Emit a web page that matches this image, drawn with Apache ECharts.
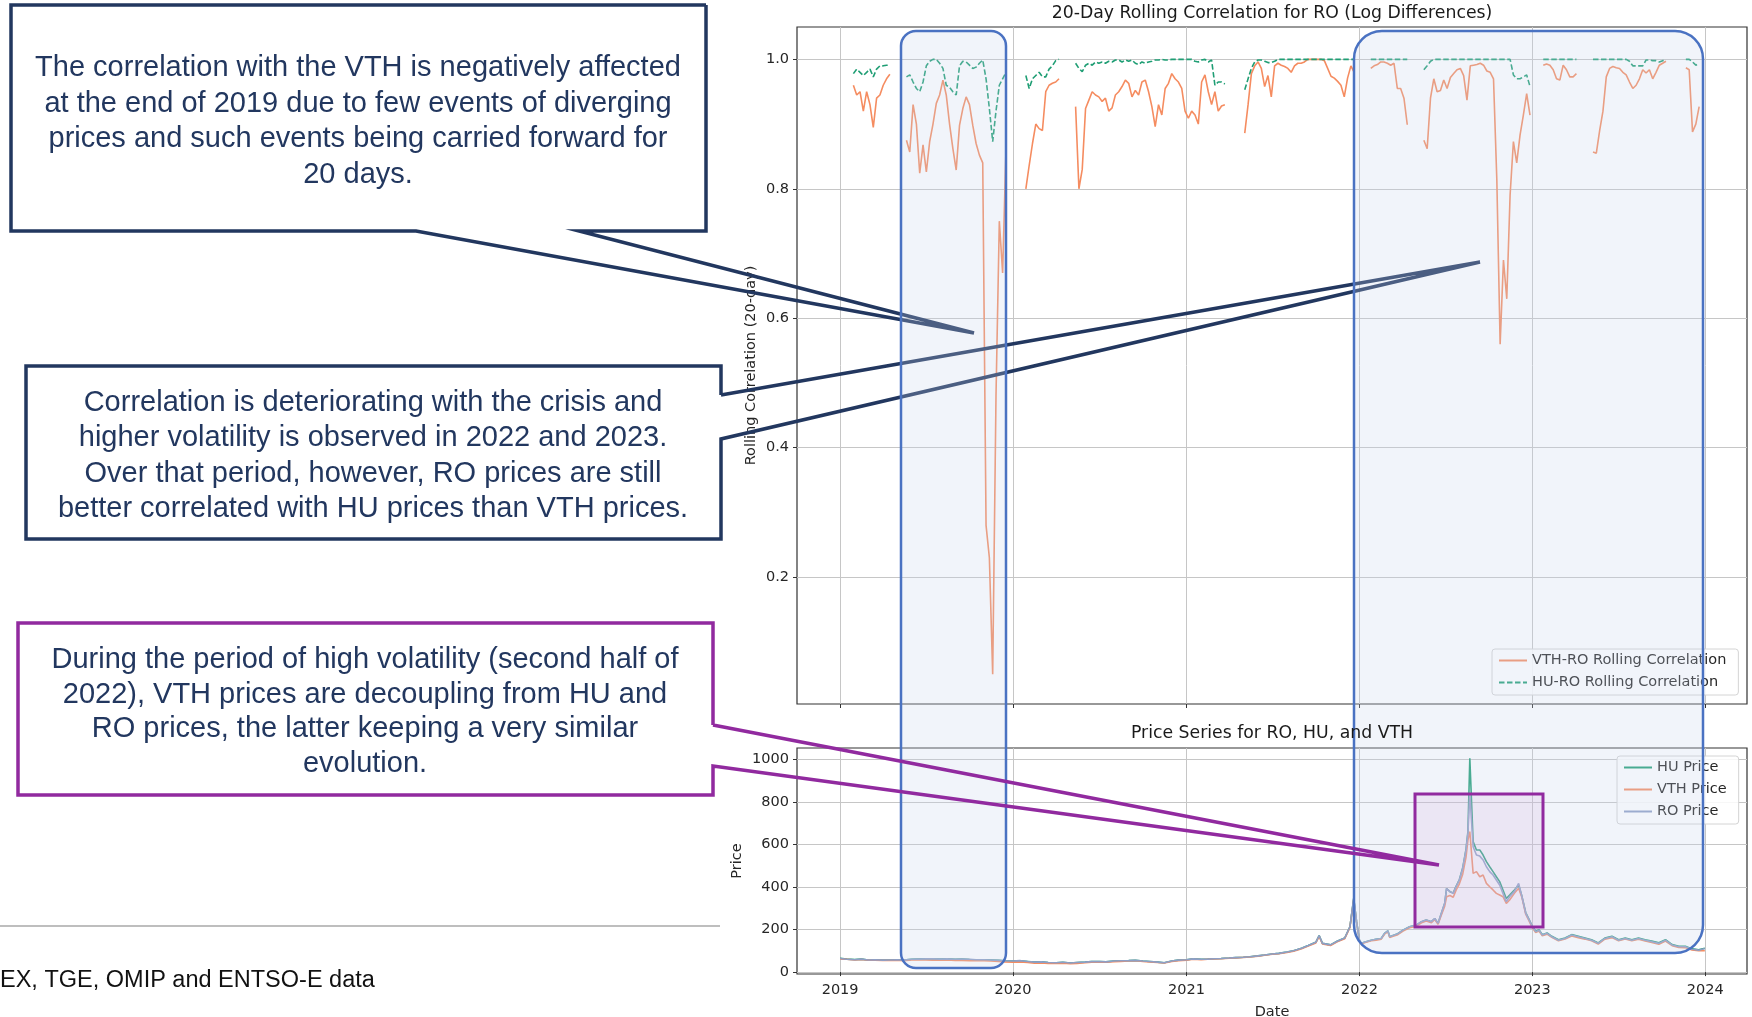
<!DOCTYPE html>
<html>
<head>
<meta charset="utf-8">
<title>RO rolling correlation and prices</title>
<script src="https://cdn.jsdelivr.net/npm/echarts@6/dist/echarts.min.js"></script>
<style>
  html, body { margin: 0; padding: 0; background: #ffffff; }
  #chart { width: 1752px; height: 1017px; }
</style>
</head>
<body>
<div id="chart"></div>
<script>
const corrStart = '2019-01-01'
const vthRoCorr = [
  null, null, null, null, 0.96, 0.945, 0.95, 0.92, 0.95, 0.93,
  0.895, 0.94, 0.945, 0.96, 0.97, 0.977, null, null, null, null,
  0.875, 0.857, 0.93, 0.90, 0.824, 0.868, 0.826, 0.873, 0.90, 0.932,
  0.945, 0.968, 0.945, 0.90, 0.862, 0.829, 0.898, 0.924, 0.942, 0.93,
  0.898, 0.87, 0.852, 0.84, 0.28, 0.23, 0.05, 0.48, 0.75, 0.67,
  0.86, null, null, null, null, null, 0.80, 0.836, 0.87, 0.90,
  0.893, 0.89, 0.95, 0.96, 0.963, 0.965, 0.97, null, null, null,
  null, 0.927, 0.80, 0.83, 0.924, 0.937, 0.95, 0.945, 0.942, 0.935,
  0.94, 0.92, 0.925, 0.945, 0.95, 0.958, 0.968, 0.963, 0.942, 0.952,
  0.945, 0.965, 0.968, 0.95, 0.927, 0.896, 0.93, 0.914, 0.955, 0.963,
  0.978, 0.97, 0.965, 0.955, 0.92, 0.909, 0.92, 0.914, 0.90, 0.965,
  0.976, 0.95, 0.93, 0.95, 0.92, 0.928, 0.93, null, null, null,
  null, null, 0.886, 0.93, 0.978, 0.99, 0.996, 0.986, 0.958, 0.975,
  0.942, 0.99, 0.994, 0.991, 0.989, 0.986, 0.98, 0.99, 0.994, 0.994,
  0.996, 1.0, 1.0, 1.0, 1.0, 1.0, 0.998, 0.986, 0.974, 0.971,
  0.966, 0.96, 0.942, 0.971, 0.99, 0.98, null, null, null, null,
  0.986, 0.99, 0.992, 0.996, 0.996, 0.994, 0.991, 0.994, 0.955, 0.955,
  0.94, 0.899, null, null, null, null, 0.875, 0.862, 0.94, 0.97,
  0.95, 0.952, 0.968, 0.955, 0.972, 0.978, 0.984, 0.986, 0.975, 0.937,
  0.99, 0.991, 0.992, 0.994, 0.991, 0.982, 0.98, 0.97, 0.814, 0.56,
  0.69, 0.63, 0.79, 0.873, 0.84, 0.883, 0.914, 0.947, 0.914, null,
  null, null, 0.991, 0.993, 0.991, 0.984, 0.97, 0.968, 0.991, 0.984,
  0.973, 0.973, 0.978, null, null, null, null, 0.857, 0.855, 0.89,
  0.92, 0.973, 0.986, 0.989, 0.987, 0.986, 0.98, 0.976, 0.965, 0.955,
  0.96, 0.97, 0.984, 0.979, 0.984, 0.97, 0.98, 0.991, 0.994, 0.997,
  null, null, null, null, null, 0.987, 0.984, 0.888, 0.90, 0.927,
  null
]
const huRoCorr = [
  null, null, null, null, 0.978, 0.985, 0.98, 0.975, 0.98, 0.985,
  0.973, 0.985, 0.99, 0.99, 0.991, 0.991, null, null, null, null,
  0.973, 0.976, 0.965, 0.955, 0.95, 0.965, 0.99, 0.997, 1.0, 1.0,
  0.994, 0.986, 0.96, 0.957, 0.95, 0.945, 0.99, 0.997, 0.996, 0.991,
  0.986, 0.988, 0.994, 0.999, 0.97, 0.924, 0.873, 0.92, 0.96, 0.97,
  0.98, null, null, null, null, null, 0.975, 0.955, 0.97, 0.975,
  0.98, 0.973, 0.973, 0.985, 0.99, 0.998, 1.0, null, null, null,
  null, 0.994, 0.986, 0.981, 0.991, 0.994, 0.991, 0.996, 0.994, 0.996,
  0.994, 0.997, 0.996, 0.999, 0.999, 0.996, 0.999, 0.997, 0.999, 0.994,
  0.992, 0.996, 0.994, 0.996, 0.997, 0.999, 0.999, 1.0, 0.999, 0.999,
  1.0, 1.0, 1.0, 1.0, 1.0, 1.0, 1.0, 0.997, 0.996, 0.999,
  1.0, 0.996, 0.999, 0.96, 0.965, 0.965, 0.962, null, null, null,
  null, null, 0.953, 0.97, 0.986, 0.996, 0.999, 0.999, 0.997, 0.995,
  0.995, 0.997, 1.0, 1.0, 1.0, 1.0, 1.0, 1.0, 1.0, 1.0,
  1.0, 1.0, 1.0, 1.0, 1.0, 1.0, 1.0, 1.0, 1.0, 1.0,
  1.0, 1.0, 1.0, 1.0, 1.0, 1.0, null, null, null, null,
  1.0, 1.0, 1.0, 1.0, 1.0, 1.0, 1.0, 1.0, 1.0, 1.0,
  1.0, 1.0, null, null, null, null, 0.984, 0.99, 0.997, 1.0,
  1.0, 1.0, 1.0, 1.0, 1.0, 1.0, 1.0, 1.0, 1.0, 1.0,
  1.0, 1.0, 1.0, 1.0, 1.0, 1.0, 1.0, 1.0, 1.0, 1.0,
  1.0, 1.0, 1.0, 0.976, 0.97, 0.97, 0.973, 0.976, 0.958, null,
  null, null, 1.0, 1.0, 1.0, 1.0, 1.0, 1.0, 1.0, 1.0,
  1.0, 1.0, 1.0, null, null, null, null, 1.0, 1.0, 1.0,
  1.0, 1.0, 1.0, 1.0, 1.0, 1.0, 1.0, 1.0, 0.997, 0.99,
  0.99, 0.99, 0.99, 0.999, 0.999, 0.998, 0.998, 0.996, 0.998, 0.999,
  null, null, null, null, null, 1.0, 1.0, 0.996, 0.991, 0.994,
  null
]

const priceDates = [
  '2019-01-01', '2019-01-15', '2019-02-01', '2019-02-15', '2019-03-01', '2019-03-15',
  '2019-04-01', '2019-04-15', '2019-05-01', '2019-05-15', '2019-06-01', '2019-06-15',
  '2019-07-01', '2019-07-15', '2019-08-01', '2019-08-15', '2019-09-01', '2019-09-15',
  '2019-10-01', '2019-10-15', '2019-11-01', '2019-11-15', '2019-12-01', '2019-12-15',
  '2020-01-01', '2020-01-15', '2020-02-01', '2020-02-15', '2020-03-01', '2020-03-15',
  '2020-04-01', '2020-04-15', '2020-05-01', '2020-05-15', '2020-06-01', '2020-06-15',
  '2020-07-01', '2020-07-15', '2020-08-01', '2020-08-15', '2020-09-01', '2020-09-15',
  '2020-10-01', '2020-10-15', '2020-11-01', '2020-11-15', '2020-12-01', '2020-12-15',
  '2021-01-01', '2021-01-15', '2021-02-01', '2021-02-15', '2021-03-01', '2021-03-15',
  '2021-04-01', '2021-04-15', '2021-05-01', '2021-05-15', '2021-06-01', '2021-06-15',
  '2021-07-01', '2021-07-15', '2021-08-01', '2021-08-15', '2021-09-01', '2021-09-15',
  '2021-10-01', '2021-10-08', '2021-10-15', '2021-11-01', '2021-11-15', '2021-12-01',
  '2021-12-12', '2021-12-20', '2021-12-26',
  '2022-01-01', '2022-01-05', '2022-01-15', '2022-01-26', '2022-02-05', '2022-02-16',
  '2022-02-23', '2022-03-02', '2022-03-06', '2022-03-13', '2022-03-23', '2022-04-03',
  '2022-04-17', '2022-05-01', '2022-05-12', '2022-05-22', '2022-06-02', '2022-06-09',
  '2022-06-16', '2022-06-23', '2022-06-30', '2022-07-04', '2022-07-11', '2022-07-18',
  '2022-07-24', '2022-07-31', '2022-08-07', '2022-08-14', '2022-08-18', '2022-08-22',
  '2022-08-29', '2022-09-05', '2022-09-12', '2022-09-19', '2022-09-26', '2022-10-03',
  '2022-10-10', '2022-10-17', '2022-10-24', '2022-10-31', '2022-11-07', '2022-11-14',
  '2022-11-24', '2022-12-03', '2022-12-10', '2022-12-18', '2022-12-25',
  '2023-01-01', '2023-01-08', '2023-01-15', '2023-01-22', '2023-02-01', '2023-02-11',
  '2023-02-25', '2023-03-11', '2023-03-25', '2023-04-08', '2023-04-22', '2023-05-06',
  '2023-05-20', '2023-06-03', '2023-06-18', '2023-07-02', '2023-07-16', '2023-07-30',
  '2023-08-13', '2023-08-27', '2023-09-10', '2023-09-25', '2023-10-09', '2023-10-23',
  '2023-11-06', '2023-11-20', '2023-12-04', '2023-12-18', '2023-12-31'
]
const huPrice = [
  65, 61, 59, 61, 57, 58, 56, 57, 58, 56, 60, 61, 62, 61, 61, 62, 60, 61, 59, 58, 58, 57, 55, 53,
  52, 53, 50, 47, 48, 45, 44, 46, 43, 45, 47, 49, 50, 48, 52, 53, 54, 55, 52, 50, 47, 44, 52, 56,
  58, 62, 60, 61, 63, 64, 66, 68, 70, 72, 76, 80, 85, 88, 94, 100, 112, 125, 140, 172, 135, 128,
  145, 160, 213, 346, 237,
  150, 135, 143, 150, 154, 158, 182, 194, 166, 172, 180, 197, 213, 221, 237, 245, 237, 252,
  229, 276, 323, 393, 378, 372, 403, 435, 490, 578, 660, 1005, 613, 574, 574, 550, 519, 495,
  472, 448, 425, 386, 346, 362, 386, 409, 356, 280, 248,
  215, 192, 199, 176, 184, 168, 152, 160, 176, 168, 160, 152, 137, 160, 168, 152, 160, 152,
  160, 152, 146, 138, 152, 129, 121, 121, 109, 105, 112
]
const vthPrice = [
  62, 60, 57, 59, 56, 56, 55, 55, 56, 54, 57, 57, 57, 56, 56, 57, 55, 55, 54, 53, 54, 52, 50, 48,
  47, 48, 45, 42, 43, 41, 40, 42, 39, 41, 44, 46, 47, 46, 49, 50, 52, 53, 50, 48, 45, 43, 50, 54,
  56, 60, 58, 60, 62, 63, 65, 67, 69, 71, 75, 79, 84, 86, 92, 98, 110, 122, 137, 168, 132, 125,
  142, 157, 210, 340, 235,
  148, 133, 140, 147, 150, 155, 178, 190, 163, 168, 176, 193, 208, 216, 232, 240, 232, 247,
  225, 268, 310, 354, 360, 352, 385, 415, 460, 540, 620, 660, 464, 472, 448, 456, 417, 401,
  386, 370, 362, 354, 323, 339, 370, 394, 350, 272, 240,
  208, 186, 193, 171, 178, 163, 147, 155, 170, 162, 155, 147, 132, 155, 162, 147, 155, 147,
  154, 146, 139, 131, 146, 124, 116, 115, 104, 100, 100
]
const roPrice = [
  64, 60, 58, 61, 57, 58, 56, 57, 58, 56, 60, 61, 62, 62, 61, 62, 60, 61, 60, 58, 58, 57, 55, 53,
  52, 54, 50, 47, 48, 45, 44, 46, 43, 45, 47, 49, 50, 48, 52, 53, 54, 55, 52, 50, 47, 44, 52, 56,
  58, 62, 60, 61, 63, 64, 66, 68, 70, 72, 76, 80, 85, 88, 94, 100, 112, 125, 140, 172, 135, 128,
  145, 160, 213, 346, 237,
  150, 135, 143, 150, 154, 158, 182, 194, 166, 172, 180, 197, 213, 221, 237, 245, 237, 252,
  229, 276, 323, 393, 378, 370, 401, 433, 487, 574, 652, 840, 589, 550, 545, 527, 495, 472,
  456, 433, 409, 370, 331, 354, 378, 417, 354, 276, 245,
  213, 190, 197, 174, 182, 166, 150, 158, 174, 166, 158, 150, 135, 158, 166, 150, 158, 150,
  158, 150, 143, 135, 150, 127, 119, 119, 107, 103, 111
]

const yearTicks = ['2019-01-01', '2020-01-01', '2021-01-01', '2022-01-01', '2023-01-01', '2024-01-01']
const corrTicks = [0.2, 0.4, 0.6, 0.8, 1.0]
const priceTicks = [0, 200, 400, 600, 800, 1000]

const corrTitle = '20-Day Rolling Correlation for RO (Log Differences)'
const priceTitle = 'Price Series for RO, HU, and VTH'
const note1 = 'The correlation with the VTH is negatively affected\nat the end of 2019 due to few events of diverging\nprices and such events being carried forward for\n20 days.'
const note2 = 'Correlation is deteriorating with the crisis and\nhigher volatility is observed in 2022 and 2023.\nOver that period, however, RO prices are still\nbetter correlated with HU prices than VTH prices.'
const note3 = 'During the period of high volatility (second half of\n2022), VTH prices are decoupling from HU and\nRO prices, the latter keeping a very similar\nevolution.'
const sourceNote = 'EX, TGE, OMIP and ENTSO-E data'

const DAY = 24 * 3600 * 1000
const ts = (s) => Date.parse(s + 'T00:00:00Z')
const yearTs = yearTicks.map(ts)

function weekly(values) {
  const start = ts(corrStart)
  return values.map((v, i) => [start + i * 7 * DAY, v])
}
function byDate(values) {
  return priceDates.map((d, i) => [ts(d), values[i]])
}

const font = 'DejaVu Sans'
const ink = '#262626'
const navy = '#22375f'
const purple = '#912a9f'
const boxBlue = '#4a72c2'
const green = '#1f9e74'
const orange = '#f58c60'
const grey = '#8e9fc6'

const xMin = ts('2018-10-02')
const xMax = ts('2024-03-29')

// dates are plotted on a plain value axis (ms timestamps) so the year ticks can be placed exactly
function xAxis(gridIndex, showLabels) {
  return {
    type: 'value',
    gridIndex,
    min: xMin,
    max: xMax,
    name: showLabels ? 'Date' : '',
    nameLocation: 'middle',
    nameGap: 31,
    nameMoveOverlap: false,
    nameTextStyle: { fontFamily: font, fontSize: 14.5, color: ink },
    axisLine: { show: false },
    axisTick: { show: true, length: 4, customValues: yearTs, lineStyle: { color: '#333', width: 1 } },
    axisLabel: {
      show: showLabels,
      customValues: yearTs,
      margin: 9,
      fontFamily: font,
      fontSize: 14.5,
      color: ink,
      formatter: (v) => String(new Date(v).getUTCFullYear())
    },
    splitLine: { show: true, lineStyle: { color: '#c6c6c6', width: 1 } }
  }
}

function yAxis(gridIndex, min, max, ticks, name, nameGap, fmt) {
  return {
    type: 'value',
    gridIndex,
    min,
    max,
    name,
    nameLocation: 'middle',
    nameGap,
    nameMoveOverlap: false,
    nameTextStyle: { fontFamily: font, fontSize: 14.5, color: ink },
    axisLine: { show: false },
    axisTick: { show: true, length: 4, customValues: ticks, lineStyle: { color: '#333', width: 1 } },
    axisLabel: { customValues: ticks, margin: 8, fontFamily: font, fontSize: 14.5, color: ink, formatter: fmt },
    splitLine: { show: true, lineStyle: { color: '#c6c6c6', width: 1 } }
  }
}

function lineSeries(name, data, color, xi, extra) {
  return Object.assign({
    name,
    type: 'line',
    xAxisIndex: xi,
    yAxisIndex: xi,
    data,
    symbol: 'none',
    showSymbol: false,
    connectNulls: false,
    itemStyle: { color },
    lineStyle: { color, width: 1.6 },
    emphasis: { disabled: true }
  }, extra || {})
}

const legendBase = {
  orient: 'vertical',
  backgroundColor: 'rgba(255,255,255,0.85)',
  borderColor: '#d4d4d4',
  borderWidth: 1,
  borderRadius: 3,
  padding: [3, 12, 4, 6],
  itemWidth: 28,
  itemHeight: 12,
  itemGap: 5,
  selectedMode: false,
  itemStyle: { opacity: 0 },
  textStyle: { fontFamily: font, fontSize: 14.5, color: ink, lineHeight: 17 }
}

function textEl(text, x, y, size, family, color, lineHeight, align) {
  return {
    type: 'text',
    z: 30,
    silent: true,
    style: {
      text, x, y,
      align: align || 'center',
      verticalAlign: 'middle',
      fontSize: size,
      fontFamily: family,
      fill: color,
      lineHeight: lineHeight
    }
  }
}

function outline(points, color, width, z) {
  return {
    type: 'polyline',
    z,
    silent: true,
    shape: { points },
    style: { stroke: color, lineWidth: width, fill: null, lineJoin: 'miter' }
  }
}

function band(x, y, w, h, r, stroke, fill, z) {
  return {
    type: 'rect',
    z,
    silent: true,
    shape: { x, y, width: w, height: h, r },
    style: { stroke, fill, lineWidth: 2.5 }
  }
}

const option = {
  animation: false,
  backgroundColor: '#ffffff',
  grid: [
    { left: 797, top: 27, width: 950, height: 677, show: true, backgroundColor: '#ffffff', borderColor: '#333', borderWidth: 1.2, outerBoundsMode: 'none' },
    { left: 797, top: 748, width: 950, height: 226, show: true, backgroundColor: '#ffffff', borderColor: '#333', borderWidth: 1.2, outerBoundsMode: 'none' }
  ],
  xAxis: [xAxis(0, false), xAxis(1, true)],
  yAxis: [
    yAxis(0, 0.004, 1.05, corrTicks, 'Rolling Correlation (20-day)', 38, (v) => v.toFixed(1)),
    yAxis(1, -9, 1053, priceTicks, 'Price', 52, (v) => String(v))
  ],
  legend: [
    Object.assign({}, legendBase, { left: 1492, top: 649, data: ['VTH-RO Rolling Correlation', 'HU-RO Rolling Correlation'] }),
    Object.assign({}, legendBase, { left: 1617, top: 756, data: ['HU Price', 'VTH Price', 'RO Price'] })
  ],
  series: [
    lineSeries('VTH-RO Rolling Correlation', weekly(vthRoCorr), orange, 0),
    lineSeries('HU-RO Rolling Correlation', weekly(huRoCorr), green, 0, {
      lineStyle: { color: green, width: 1.6, type: [5.5, 2.5] }
    }),
    lineSeries('HU Price', byDate(huPrice), green, 1),
    lineSeries('VTH Price', byDate(vthPrice), orange, 1),
    lineSeries('RO Price', byDate(roPrice), grey, 1)
  ],
  graphic: [
    textEl(corrTitle, 1272, 14, 17.3, font, '#1a1a1a', 20),
    textEl(priceTitle, 1272, 734, 17.3, font, '#1a1a1a', 20),

    // navy callouts sit under the blue bands
    outline([[706, 5], [11, 5], [11, 231], [416, 231], [974, 333], [579, 231], [706, 231], [706, 5]], navy, 3.5, 5),
    outline([[721, 395], [1480, 262], [721, 439], [721, 539], [26, 539], [26, 366], [721, 366], [721, 395]], navy, 3.5, 5),

    band(901, 31, 105, 937, 15, boxBlue, 'rgba(200,212,235,0.25)', 10),
    band(1354, 31, 349, 922, 28, boxBlue, 'rgba(200,212,235,0.25)', 10),

    {
      type: 'rect', z: 15, silent: true,
      shape: { x: 1415, y: 794, width: 128, height: 133 },
      style: { stroke: purple, fill: 'rgba(205,160,220,0.16)', lineWidth: 3 }
    },
    outline([[713, 725], [1439, 865], [713, 766], [713, 795], [18, 795], [18, 623], [713, 623], [713, 725]], purple, 3.5, 16),

    textEl(note1, 358, 121.5, 29, 'Liberation Sans', navy, 35.4),
    textEl(note2, 373, 456, 29, 'Liberation Sans', navy, 35.4),
    textEl(note3, 365, 712, 29, 'Liberation Sans', navy, 34.7),

    {
      type: 'line', z: 5, silent: true,
      shape: { x1: 0, y1: 926, x2: 720, y2: 926 },
      style: { stroke: '#a8a8a8', lineWidth: 1.5 }
    },
    textEl(sourceNote, 0, 981, 23.5, 'Liberation Sans', '#111111', 28, 'left')
  ]
}

const chart = echarts.init(document.getElementById('chart'), null, { renderer: 'canvas' })
chart.setOption(option)
</script>
</body>
</html>
